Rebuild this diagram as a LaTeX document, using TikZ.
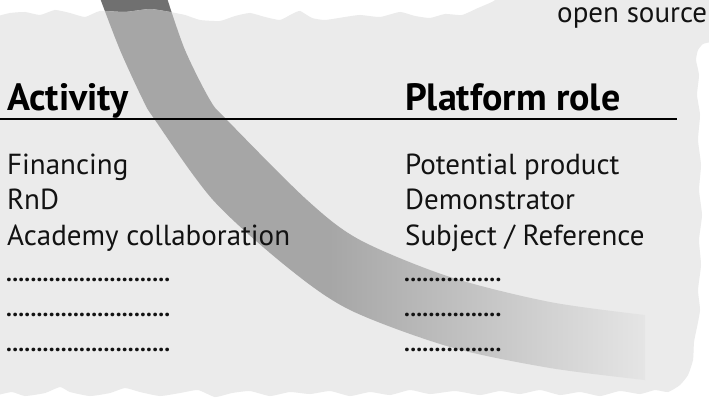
\documentclass[tikz,border=0pt]{standalone}
\usepackage{fontspec}
\setmainfont{PT Sans}
\usepackage{tikz}
\usetikzlibrary{positioning}
\usepackage{xcolor}
\definecolor{paper}{RGB}{235,235,235}
\definecolor{banddark}{RGB}{112,112,112}
\definecolor{bandgray}{RGB}{166,166,166}
\definecolor{bandmid}{RGB}{203,203,203}
\definecolor{bandlight}{RGB}{229,229,229}
\definecolor{ink}{RGB}{18,18,18}
\pgfdeclarehorizontalshading{bandfade}{100bp}{color(0bp)=(bandgray); color(46bp)=(bandgray); color(63bp)=(bandmid); color(75bp)=(bandlight); color(100bp)=(bandlight)}
\tikzstyle{heading} = [font=\bfseries\fontsize{38}{38}\selectfont, anchor=base west, inner sep=0pt, text=black]
\tikzstyle{entry} = [font=\fontsize{29}{29}\selectfont, anchor=base west, inner sep=0pt, text=ink]
\tikzstyle{dotrow} = [font=\bfseries\fontsize{23.5}{23.5}\selectfont, anchor=base west, inner sep=0pt, text=ink]
\tikzstyle{rule} = [line width=2pt, color=black]
% torn sheet and the curved band
\newcommand{\paperoutline}{plot[smooth, tension=0.3] coordinates {(-2,16) (10,13) (25,12) (40,15) (55,10) (70,13) (85,17) (100,11) (125,12) (150,9) (170,12) (185,15) (200,20) (220,21) (235,16) (250,13) (265,17) (280,20) (292,14) (300,11) (312,18) (325,20) (345,17) (360,15) (380,17) (400,12) (415,16) (430,18) (445,14) (462,15) (478,8) (492,2) (498,-2)} -- (711,-2) -- plot[smooth, tension=0.3] coordinates {(711,42) (703,44) (698,50) (696,60) (699,75) (697,95) (700,115) (698,140) (701,165) (699,190) (702,215) (699,240) (701,265) (698,290) (700,310) (697,327) (694,342) (693,360) (688,375) (680,385) (668,392) (655,390) (640,394) (620,391) (600,396) (580,392) (560,395) (540,390) (520,394) (500,391) (480,395) (455,391) (430,394) (410,390) (390,395) (370,392) (350,396) (330,391) (310,394) (290,392) (270,396) (250,391) (232,393) (215,397) (198,390) (180,393) (160,396) (140,392) (125,388) (110,393) (90,396) (70,392) (60,387) (45,393) (25,396) (12,392) (-2,395)} -- cycle}
\newcommand{\bandoutline}{plot[smooth] coordinates {(100,-2) (120,50) (143,100) (155,120) (213,200) (287,267) (350,310) (450,347) (550,368) (645,380)} -- plot[smooth] coordinates {(645,315) (550,302) (450,277) (360,240) (307,200) (227,120) (210,100) (185,50) (167,-2)} -- cycle}
\begin{document}
\begin{tikzpicture}[x=1pt, y=-1pt]
\useasboundingbox[fill=white] (0,0) rectangle (709,404);

% Band and sheet
\fill[banddark] \bandoutline;
\fill[paper] \paperoutline;
\begin{scope}
\clip \paperoutline;
\shade[shading=bandfade] \bandoutline;
\end{scope}

% Top label
\node[entry] (opensrc) at (557,23) {open source};

% Headings
\node[heading] (activity) at (7,110) {Activity};
\node[heading] (platform) at (405,110) {Platform role};
\coordinate (rulestart) at (0,118.5);
\coordinate (ruleend) at (677,118.5);
\draw[rule] (rulestart) -- (ruleend);

% Activities
\node[entry] (financing) at (7,174) {Financing};
\node[entry] (rnd) at (7,209.5) {RnD};
\node[entry] (academy) at (7,245) {Academy collaboration};
\node[dotrow] (actdots1) at (6,281) {...........................};
\node[dotrow] (actdots2) at (6,316) {...........................};
\node[dotrow] (actdots3) at (6,351) {...........................};

% Platform roles
\node[entry] (product) at (405,174) {Potential product};
\node[entry] (demo) at (405,209.5) {Demonstrator};
\node[entry] (subject) at (405,245) {Subject / Reference};
\node[dotrow] (roledots1) at (404,281) {................};
\node[dotrow] (roledots2) at (404,316) {................};
\node[dotrow] (roledots3) at (404,351) {................};
\end{tikzpicture}
\end{document}
